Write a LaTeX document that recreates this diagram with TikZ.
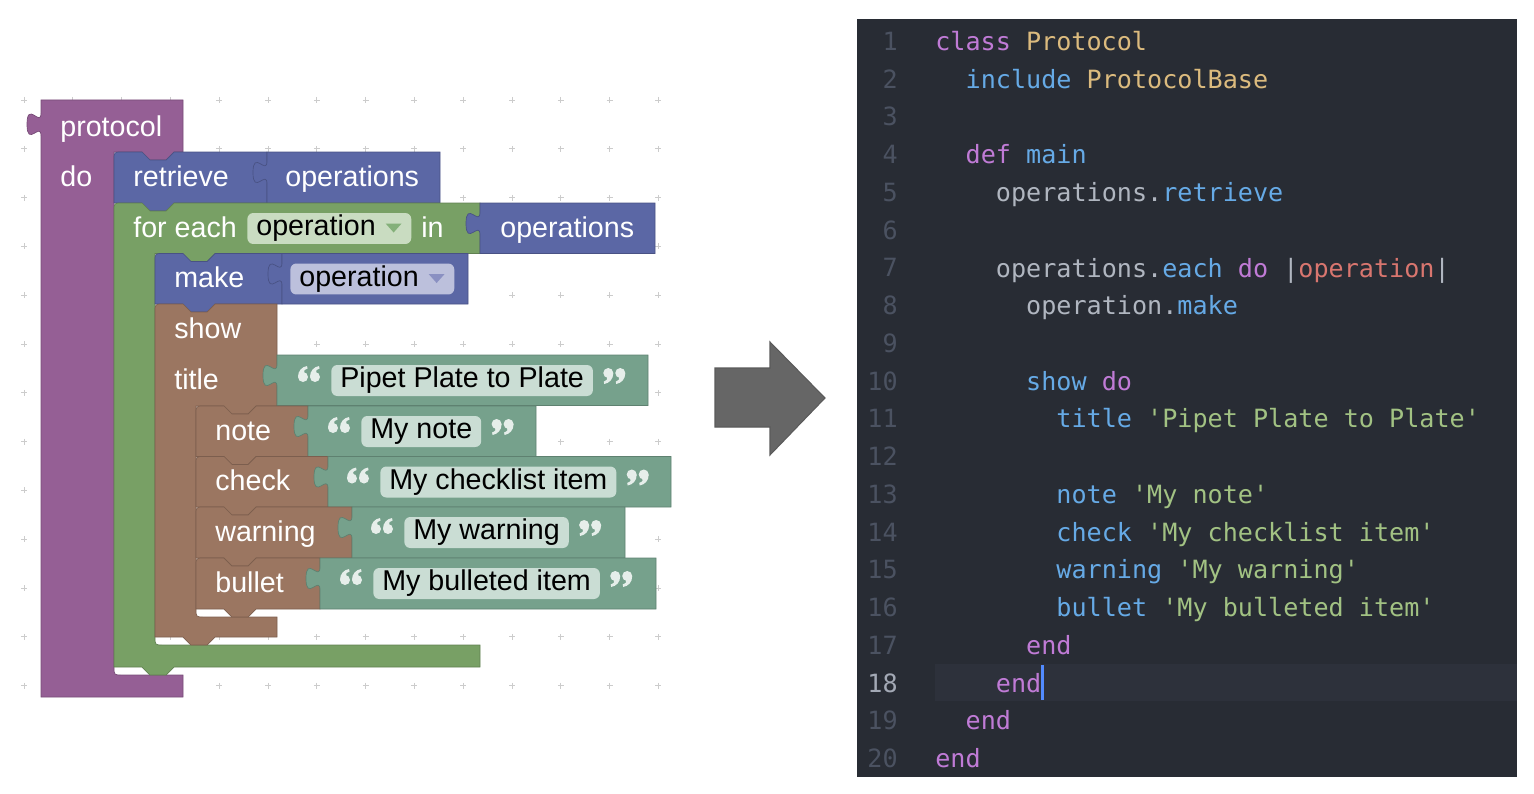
\documentclass[tikz,border=0pt]{standalone}
\usepackage{fontspec}
\setmainfont{Liberation Sans}
\newfontfamily\blockfont{Liberation Sans}
\newfontfamily\codefont{DejaVu Sans Mono}[Ligatures=TeXOff]

\definecolor{blkpurple}{HTML}{955F95}
\definecolor{blkblue}{HTML}{5B67A5}
\definecolor{blkgreen}{HTML}{78A065}
\definecolor{blkbrown}{HTML}{9B7661}
\definecolor{blkteal}{HTML}{76A18C}
\definecolor{fieldgreen}{HTML}{C9DCC1}
\definecolor{fieldblue}{HTML}{BCC0DC}
\definecolor{fieldteal}{HTML}{CADDD4}
\definecolor{arrowgreen}{HTML}{84B07A}
\definecolor{arrowblue}{HTML}{8A90C2}
\definecolor{quotewhite}{HTML}{E6EEEA}
\definecolor{gridgray}{HTML}{CCCCCC}
\definecolor{arrowgray}{HTML}{666666}
\definecolor{arrowedge}{HTML}{5A5A5A}
\definecolor{editorbg}{HTML}{282C34}
\definecolor{curline}{HTML}{2D313B}
\definecolor{gutter}{HTML}{4B5261}
\definecolor{gutteron}{HTML}{A3A9B5}
\definecolor{cdtext}{HTML}{B0B6C0}
\definecolor{cdkw}{HTML}{C07BD6}
\definecolor{cdcls}{HTML}{DCBB7E}
\definecolor{cdfun}{HTML}{66AAE6}
\definecolor{cdstr}{HTML}{A2C283}
\definecolor{cdvar}{HTML}{D9766F}
\definecolor{cursorblue}{HTML}{528BFF}

\newcommand{\ckw}[1]{\textcolor{cdkw}{#1}}
\newcommand{\ccls}[1]{\textcolor{cdcls}{#1}}
\newcommand{\cfun}[1]{\textcolor{cdfun}{#1}}
\newcommand{\cstr}[1]{\textcolor{cdstr}{#1}}
\newcommand{\cvar}[1]{\textcolor{cdvar}{#1}}

\tikzset{
	blk/.style={fill=#1, draw=#1!80!black, line width=0.4pt},
	stmt shape/.style args={#1:#2:#3:#4}{
		insert path={(#1,#3+8) .. controls (#1,#3) .. (#1+8,#3) -- (#1+28,#3) -- (#1+36,#3+8) -- (#1+52,#3+8) -- (#1+60,#3) -- (#2,#3) -- (#2,#4) -- (#1+60,#4) -- (#1+52,#4+8) -- (#1+36,#4+8) -- (#1+28,#4) -- (#1,#4) -- cycle}
	},
	value shape/.style args={#1:#2:#3:#4}{
		insert path={(#1,#3) -- (#1,#3+9) .. controls (#1,#3+24) and (#1-14,#3-3) .. (#1-14,#3+20.5) .. controls (#1-14,#3+44) and (#1,#3+17) .. (#1,#3+32) -- (#1,#4) -- (#2,#4) -- (#2,#3) -- cycle}
	},
	quoteopen/.pic={
		\foreach \qx in {-28,-16} {
			\fill[quotewhite] (\qx,-3.5) circle[radius=5];
			\fill[quotewhite] (\qx-5,-3.5) .. controls (\qx-5,-10) and (\qx-1,-13.5) .. (\qx+4,-14.5) -- (\qx+4.5,-12) .. controls (\qx+1,-10.5) and (\qx,-9) .. (\qx+1.5,-8) -- cycle;
		}
	},
	quoteclose/.pic={
		\foreach \qx in {15,27} {
			\fill[quotewhite] (\qx,-7.5) circle[radius=5];
			\fill[quotewhite] (\qx+5,-7.5) .. controls (\qx+5,-1) and (\qx+1,2.5) .. (\qx-4,3.5) -- (\qx-4.5,1) .. controls (\qx-1,-0.5) and (\qx,-2) .. (\qx-1.5,-3) -- cycle;
		}
	},
	blocklabel/.style={anchor=base west, inner sep=0pt, text=white, font=\blockfont\fontsize{16.3}{19}\selectfont},
	fieldbox/.style={anchor=west, rounded corners=0.12cm, inner xsep=0.18cm, inner ysep=0pt, minimum height=0.62cm, text height=11.7pt, text depth=3.4pt, text=black, font=\blockfont\fontsize{16.3}{19}\selectfont},
	gridplus/.style={draw=gridgray, line width=0.5pt},
	codeline/.style={anchor=base west, inner sep=0pt, text=cdtext, font=\codefont\fontsize{14.3}{17}\selectfont},
	linenum/.style={anchor=base east, inner sep=0pt, text=gutter, font=\codefont\fontsize{14.3}{17}\selectfont}
}

\begin{document}
\begin{tikzpicture}[x=0.02cm, y=-0.02cm]
	\useasboundingbox (0,0) rectangle (1534,794);

	% workspace grid
	\foreach \i in {0,...,13}
		\foreach \j in {0,...,12}
			\draw[gridplus] ({24+48.8*\i-3},{100+48.8*\j}) -- ++(6,0) ({24+48.8*\i},{100+48.8*\j-3}) -- ++(0,6);

	% protocol block
	\path[blk=blkpurple] (41,100) -- (41,113) .. controls (41,128) and (27,100) .. (27,124.5) .. controls (27,148) and (41,121) .. (41,136) -- (41,697) -- (183,697) -- (183,675) -- (122,675) .. controls (114,675) .. (114,667) -- (114,152) -- (142,152) -- (150,160) -- (166,160) -- (174,152) -- (183,152) -- (183,100) -- cycle;

	% retrieve
	\path[blk=blkblue] [stmt shape=114:267:152:203];
	\path[blk=blkblue] [value shape=267:440:152:203];

	% for each loop
	\path[blk=blkgreen] (114,211) .. controls (114,203) .. (122,203) -- (142,203) -- (150,211) -- (166,211) -- (174,203) -- (480,203) -- (480,253.5) -- (215,253.5) -- (207,261.5) -- (191,261.5) -- (183,253.5) -- (155,253.5) -- (155,637) .. controls (155,645) .. (163,645) -- (480,645) -- (480,667) -- (174,667) -- (166,675) -- (150,675) -- (142,667) -- (114,667) -- cycle;
	\path[blk=blkblue] [value shape=480:655:203:253.5];

	% make
	\path[blk=blkblue] [stmt shape=155:282:253.5:304];
	\path[blk=blkblue] [value shape=282:468:253.5:304];

	% show
	\path[blk=blkbrown] (155,312) .. controls (155,304) .. (163,304) -- (183,304) -- (191,312) -- (207,312) -- (215,304) -- (277,304) -- (277,406) -- (256,406) -- (248,414) -- (232,414) -- (224,406) -- (196,406) -- (196,609) .. controls (196,617) .. (204,617) -- (277,617) -- (277,637) -- (215,637) -- (207,645) -- (191,645) -- (183,637) -- (155,637) -- cycle;
	\path[blk=blkteal] [value shape=277:648:355:405.5];

	% note, check, warning, bullet
	\path[blk=blkbrown] [stmt shape=196:308:406:456.5];
	\path[blk=blkteal] [value shape=308:536:406:456.5];
	\path[blk=blkbrown] [stmt shape=196:328:456.5:507];
	\path[blk=blkteal] [value shape=328:671:456.5:507];
	\path[blk=blkbrown] [stmt shape=196:352:507:558];
	\path[blk=blkteal] [value shape=352:625:507:558];
	\path[blk=blkbrown] [stmt shape=196:320:558:609];
	\path[blk=blkteal] [value shape=320:656:558:609];

	% block labels
	\node[blocklabel] (lbl-protocol) at (60,136) {protocol};
	\node[blocklabel] (lbl-do) at (60,186) {do};
	\node[blocklabel] (lbl-retrieve) at (133,186) {retrieve};
	\node[blocklabel] (lbl-ops-a) at (285,186) {operations};
	\node[blocklabel] (lbl-foreach) at (133,237) {for each};
	\node[blocklabel] (lbl-in) at (421,237) {in};
	\node[blocklabel] (lbl-ops-b) at (500,237) {operations};
	\node[blocklabel] (lbl-make) at (174,287.5) {make};
	\node[blocklabel] (lbl-show) at (174,338) {show};
	\node[blocklabel] (lbl-title) at (174,389) {title};
	\node[blocklabel] (lbl-note) at (215,440) {note};
	\node[blocklabel] (lbl-check) at (215,490.5) {check};
	\node[blocklabel] (lbl-warning) at (215,541) {warning};
	\node[blocklabel] (lbl-bullet) at (215,592) {bullet};

	% variable fields
	\node[fieldbox, fill=fieldgreen] (f-loopvar) at (247,228.5) {operation\kern0.53cm};
	\fill[arrowgreen] ([xshift=-0.52cm, yshift=0.1cm]f-loopvar.east) -- ++(16,0) -- ++(-8,9) -- cycle;
	\node[fieldbox, fill=fieldblue] (f-makevar) at (290,279) {operation\kern0.53cm};
	\fill[arrowblue] ([xshift=-0.52cm, yshift=0.1cm]f-makevar.east) -- ++(16,0) -- ++(-8,9) -- cycle;

	% text fields
	\node[fieldbox, fill=fieldteal] (f-title) at (331,380.5) {Pipet Plate to Plate};
	\pic (q-title-l) at (f-title.west) {quoteopen};
	\pic (q-title-r) at (f-title.east) {quoteclose};
	\node[fieldbox, fill=fieldteal] (f-note) at (361,431.5) {My note};
	\pic (q-note-l) at (f-note.west) {quoteopen};
	\pic (q-note-r) at (f-note.east) {quoteclose};
	\node[fieldbox, fill=fieldteal] (f-check) at (380,482) {My checklist item};
	\pic (q-check-l) at (f-check.west) {quoteopen};
	\pic (q-check-r) at (f-check.east) {quoteclose};
	\node[fieldbox, fill=fieldteal] (f-warning) at (404,532.5) {My warning};
	\pic (q-warning-l) at (f-warning.west) {quoteopen};
	\pic (q-warning-r) at (f-warning.east) {quoteclose};
	\node[fieldbox, fill=fieldteal] (f-bullet) at (373,583.5) {My bulleted item};
	\pic (q-bullet-l) at (f-bullet.west) {quoteopen};
	\pic (q-bullet-r) at (f-bullet.east) {quoteclose};

	% big arrow
	\path[fill=arrowgray, draw=arrowedge, line width=0.6pt] (715,368) -- (770,368) -- (770,342) -- (825,398) -- (770,455) -- (770,427) -- (715,427) -- cycle;

	% editor
	\fill[editorbg] (857,19) rectangle (1517,777);
	\fill[curline] (935,664) rectangle (1517,701);
	\foreach \n in {1,2,3,4,5,6,7,8,9,10,11,12,13,14,15,16,17,19,20}
		\node[linenum] (num-\n) at (898,{50.5+37.74*(\n-1)}) {\n};
	\node[linenum, text=gutteron] (num-18) at (898,692.1) {18};

	\node[codeline] (line-1) at (935,50.5) {\ckw{class} \ccls{Protocol}};
	\node[codeline] (line-2) at (965.3,88.2) {\cfun{include} \ccls{ProtocolBase}};
	\node[codeline] (line-4) at (965.3,163.7) {\ckw{def} \cfun{main}};
	\node[codeline] (line-5) at (995.6,201.5) {operations.\cfun{retrieve}};
	\node[codeline] (line-7) at (995.6,277) {operations.\cfun{each} \ckw{do} |\cvar{operation}|};
	\node[codeline] (line-8) at (1025.8,314.7) {operation.\cfun{make}};
	\node[codeline] (line-10) at (1025.8,390.2) {\cfun{show} \ckw{do}};
	\node[codeline] (line-11) at (1056.1,427.9) {\cfun{title} \cstr{'Pipet Plate to Plate'}};
	\node[codeline] (line-13) at (1056.1,503.4) {\cfun{note} \cstr{'My note'}};
	\node[codeline] (line-14) at (1056.1,541.2) {\cfun{check} \cstr{'My checklist item'}};
	\node[codeline] (line-15) at (1056.1,578.9) {\cfun{warning} \cstr{'My warning'}};
	\node[codeline] (line-16) at (1056.1,616.6) {\cfun{bullet} \cstr{'My bulleted item'}};
	\node[codeline] (line-17) at (1025.8,654.4) {\ckw{end}};
	\node[codeline] (line-18) at (995.6,692.1) {\ckw{end}};
	\node[codeline] (line-19) at (965.3,729.8) {\ckw{end}};
	\node[codeline] (line-20) at (935,767.6) {\ckw{end}};
	\fill[cursorblue] (1040.5,665) rectangle (1043.5,700);
\end{tikzpicture}
\end{document}
